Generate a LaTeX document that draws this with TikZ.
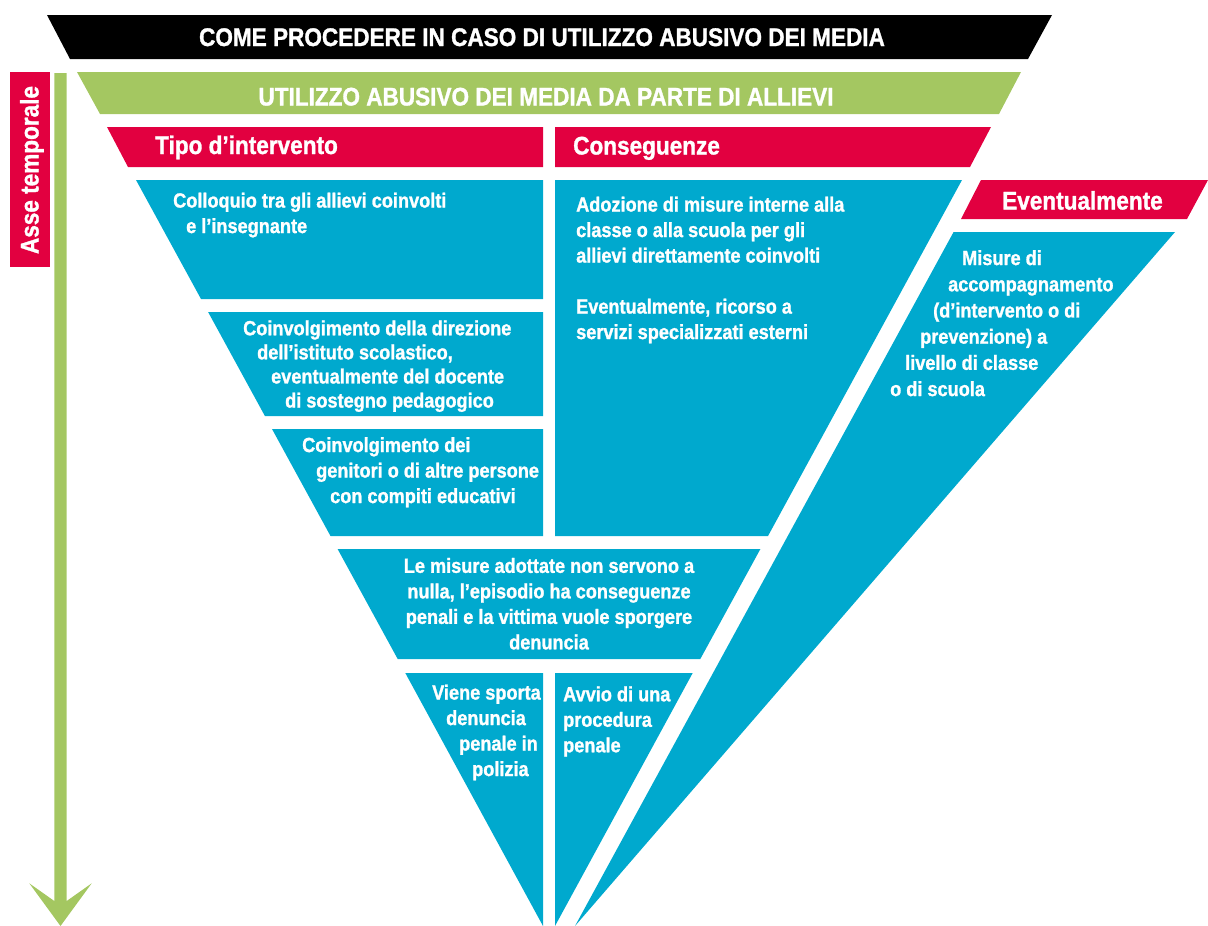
\documentclass[tikz,border=0pt]{standalone}
\usepackage{fontspec}
\setmainfont{Liberation Sans}[FakeStretch=0.885, BoldFeatures={FakeBold=1.2}]
\definecolor{cblue}{RGB}{0,169,206}
\definecolor{cred}{RGB}{226,0,64}
\definecolor{cgreen}{RGB}{164,199,97}
\begin{document}
\begin{tikzpicture}[x=1pt,y=-1pt,
  title/.style={font=\fontsize{25.5}{29}\selectfont\bfseries, text=white, inner sep=0pt, anchor=base},
  head/.style={font=\fontsize{25.5}{29}\selectfont\bfseries, text=white, inner sep=0pt, anchor=base west},
  body/.style={font=\fontsize{20.5}{25.5}\selectfont\bfseries, text=white, inner sep=0pt, anchor=north west, align=left}
]
\useasboundingbox (0,0) rectangle (1208,926);
% banners
\fill[black] (47,15) -- (1052,15) -- (1028,59) -- (70,59) -- cycle;
\fill[cgreen] (77,72) -- (1021,72) -- (999,114) -- (100,114) -- cycle;
\fill[cred] (107,127) -- (543,127) -- (543,167) -- (128,167) -- cycle;
\fill[cred] (555,127) -- (991,127) -- (970,167) -- (555,167) -- cycle;
\fill[cred] (981,180) -- (1208,180) -- (1187,219) -- (961,219) -- cycle;
% blue boxes
\fill[cblue] (136,180) -- (543,180) -- (543,299) -- (201,299) -- cycle;
\fill[cblue] (208.1,312) -- (543,312) -- (543,416) -- (264.9,416) -- cycle;
\fill[cblue] (272,429) -- (543,429) -- (543,536) -- (330.5,536) -- cycle;
\fill[cblue] (555,180) -- (962,180) -- (768,536) -- (555,536) -- cycle;
\fill[cblue] (337.6,549) -- (760.4,549) -- (700.3,659) -- (397.7,659) -- cycle;
\fill[cblue] (405.3,673) -- (543,673) -- (543,926) -- cycle;
\fill[cblue] (555,673) -- (692.7,673) -- (555,926) -- cycle;
\fill[cblue] (953.6,232) -- (1175,232) -- (575,926) -- cycle;
% time axis
\fill[cred] (10,72) rectangle (50,267);
\fill[cgreen] (54.3,73) -- (66.7,73) -- (66.7,901) -- (91.7,883.3) -- (60.5,926) -- (29.3,883.3) -- (54.3,901) -- cycle;
\node[head, anchor=base, rotate=90] (asse) at (38.5,170) {Asse temporale};
% titles
\node[title] (t1) at (542,46) {COME PROCEDERE IN CASO DI UTILIZZO ABUSIVO DEI MEDIA};
\node[title] (t2) at (546,105.5) {UTILIZZO ABUSIVO DEI MEDIA DA PARTE DI ALLIEVI};
\node[head] (h1) at (155,154) {Tipo d’intervento};
\node[head] (h2) at (573,154.5) {Conseguenze};
\node[head] (h3) at (1002,209.5) {Eventualmente};
% texts
\node[body] (b1) at (173,192.5) {Colloquio tra gli allievi coinvolti\\\hspace*{13pt}e l’insegnante};
\node[body, font=\fontsize{20.5}{24.1}\selectfont\bfseries] (b2) at (243,320.2) {Coinvolgimento della direzione\\\hspace*{14pt}dell’istituto scolastico,\\\hspace*{28pt}eventualmente del docente\\\hspace*{42pt}di sostegno pedagogico};
\node[body] (b3) at (302,437) {Coinvolgimento dei\\\hspace*{14pt}genitori o di altre persone\\\hspace*{28pt}con compiti educativi};
\node[body] (c1) at (576,196.5) {Adozione di misure interne alla\\classe o alla scuola per gli\\allievi direttamente coinvolti\\[25.5pt]Eventualmente, ricorso a\\servizi specializzati esterni};
\node[body, anchor=north, align=center] (b4) at (549,557.8) {Le misure adottate non servono a\\nulla, l’episodio ha conseguenze\\penali e la vittima vuole sporgere\\denuncia};
\node[body] (b5) at (432,684.5) {Viene sporta\\\hspace*{14pt}denuncia\\\hspace*{27pt}penale in\\\hspace*{40pt}polizia};
\node[body] (c2) at (563,686.2) {Avvio di una\\procedura\\penale};
\node[body, font=\fontsize{20.5}{26.2}\selectfont\bfseries] (e1) at (890,250) {\hspace*{72pt}Misure di\\\hspace*{58pt}accompagnamento\\\hspace*{43pt}(d’intervento o di\\\hspace*{30pt}prevenzione) a\\\hspace*{15pt}livello di classe\\o di scuola};
\end{tikzpicture}
\end{document}
